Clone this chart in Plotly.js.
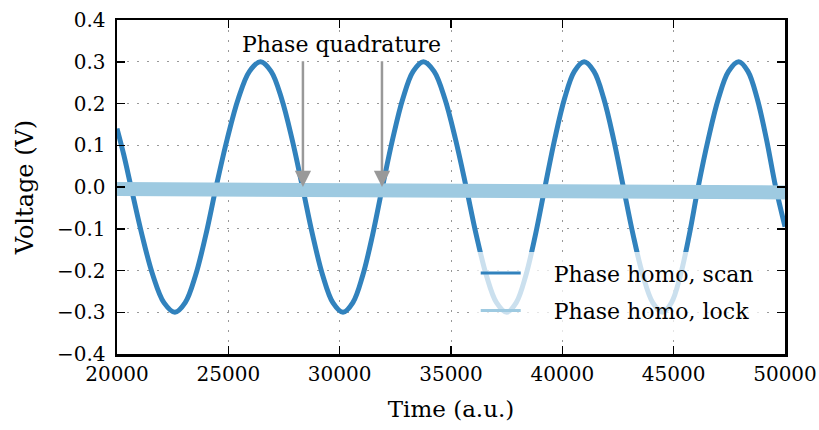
<!DOCTYPE html>
<html>
<head>
<meta charset="utf-8">
<script src="https://cdn.plot.ly/plotly-3.0.1.min.js"></script>
<style>html,body{margin:0;padding:0;background:#fff;}#chart{width:819px;height:430px;}</style>
</head>
<body>
<div id="chart"></div>
<script>
// Phase homo, scan
const scanTime = [20000, 20300, 20630, 21123, 21615, 22108, 22600, 23063, 23525, 23988, 24450, 24950, 25450, 25950, 26450, 26920, 27390, 27860, 28330, 28785, 29240, 29695, 30150, 30593, 31035, 31478, 31920, 32380, 32840, 33300, 33760, 34240, 34720, 35200, 35680, 36135, 36590, 37045, 37500, 37930, 38360, 38790, 39220, 39660, 40100, 40540, 40980, 41420, 41860, 42300, 42740, 43180, 43620, 44060, 44500, 44900, 45300, 45700, 46100, 46555, 47010, 47465, 47920, 48335, 48750, 49165, 49580, 50000];
const scanVolt = [0.14, 0.078, 0.0, -0.115, -0.212, -0.277, -0.30, -0.277, -0.212, -0.115, 0.0, 0.115, 0.212, 0.277, 0.30, 0.277, 0.212, 0.115, 0.0, -0.115, -0.212, -0.277, -0.30, -0.277, -0.212, -0.115, 0.0, 0.115, 0.212, 0.277, 0.30, 0.277, 0.212, 0.115, 0.0, -0.115, -0.212, -0.277, -0.30, -0.277, -0.212, -0.115, 0.0, 0.115, 0.212, 0.277, 0.30, 0.277, 0.212, 0.115, 0.0, -0.115, -0.212, -0.277, -0.30, -0.277, -0.212, -0.115, 0.0, 0.115, 0.212, 0.277, 0.30, 0.277, 0.212, 0.115, 0.0, -0.095];
// Phase homo, lock
const lockTime = [20000, 21500, 23000, 24500, 26000, 27500, 29000, 30500, 32000, 33500, 35000, 36500, 38000, 39500, 41000, 42500, 44000, 45500, 47000, 48500, 50000];
const lockVolt = [-0.005, -0.005, -0.006, -0.005, -0.006, -0.006, -0.005, -0.006, -0.007, -0.008, -0.010, -0.012, -0.012, -0.013, -0.012, -0.013, -0.013, -0.012, -0.013, -0.013, -0.013];
const seriesNames = ['Phase homo, scan', 'Phase homo, lock'];
const seriesColors = ['#3182bd', '#9ecae1'];
const yTicks = [-0.4, -0.3, -0.2, -0.1, 0.0, 0.1, 0.2, 0.3, 0.4];
const xTicks = [20000, 25000, 30000, 35000, 40000, 45000, 50000];
const arrowTimes = [28350, 31900];
const noteText = 'Phase quadrature';

const FONT = 'DejaVu Serif, serif';
const PAD = '\u00a0\u00a0\u00a0\u00a0';

const traces = [
  {x: scanTime, y: scanVolt, mode: 'lines', showlegend: false,
   line: {color: seriesColors[0], width: 5, shape: 'spline', smoothing: 1}},
  {x: lockTime, y: lockVolt, mode: 'lines', showlegend: false,
   line: {color: seriesColors[1], width: 14}},
  // legend keys (thin line samples, no data drawn)
  {x: [null], y: [null], mode: 'lines', name: PAD + seriesNames[0], legendgroup: 'a',
   line: {color: seriesColors[0], width: 3}},
  {x: [null], y: [null], mode: 'lines', name: PAD + seriesNames[1], legendgroup: 'b',
   line: {color: seriesColors[1], width: 3}}
];

const axisCommon = {
  showline: true, linecolor: '#000', linewidth: 2.5, mirror: 'ticks',
  ticks: 'inside', ticklen: 8, tickwidth: 1.5, tickcolor: '#000',
  showgrid: true, gridcolor: '#999', gridwidth: 1, griddash: '2px,8px',
  zeroline: false, tickfont: {family: FONT, size: 20, color: '#000'}
};

const annotations = [{
  x: 30100, y: 0.3425, xref: 'x', yref: 'y', text: noteText, showarrow: false,
  font: {family: FONT, size: 22, color: '#000'}, xanchor: 'center', yanchor: 'middle'
}];
arrowTimes.forEach(t => annotations.push({
  x: t, y: 0.0, xref: 'x', yref: 'y', ax: t, ay: 0.305, axref: 'x', ayref: 'y',
  text: '', showarrow: true, arrowhead: 2, arrowsize: 1.3, arrowwidth: 2.5, arrowcolor: '#999'
}));

const layout = {
  width: 819, height: 430,
  margin: {l: 117, r: 34, t: 20, b: 76},
  paper_bgcolor: '#fff', plot_bgcolor: '#fff',
  font: {family: FONT, color: '#000'},
  xaxis: Object.assign({}, axisCommon, {
    range: [20000, 50000], tickvals: xTicks, ticktext: xTicks.map(String),
    title: {text: 'Time (a.u.)', font: {family: FONT, size: 23}, standoff: 17}
  }),
  yaxis: Object.assign({}, axisCommon, {
    range: [-0.4, 0.4], tickvals: yTicks, tickformat: '.1f', ticklabelstandoff: 5,
    title: {text: 'Voltage (V)', font: {family: FONT, size: 24}, standoff: 17}
  }),
  showlegend: true,
  legend: {x: 0.537, y: 0.305, xanchor: 'left', yanchor: 'top',
    bgcolor: 'rgba(255,255,255,0.75)', borderwidth: 0,
    font: {family: FONT, size: 22, color: '#000'},
    traceorder: 'grouped', tracegroupgap: 6, itemwidth: 40},
  annotations: annotations
};

Plotly.newPlot('chart', traces, layout, {displayModeBar: false, staticPlot: true});
</script>
</body>
</html>
